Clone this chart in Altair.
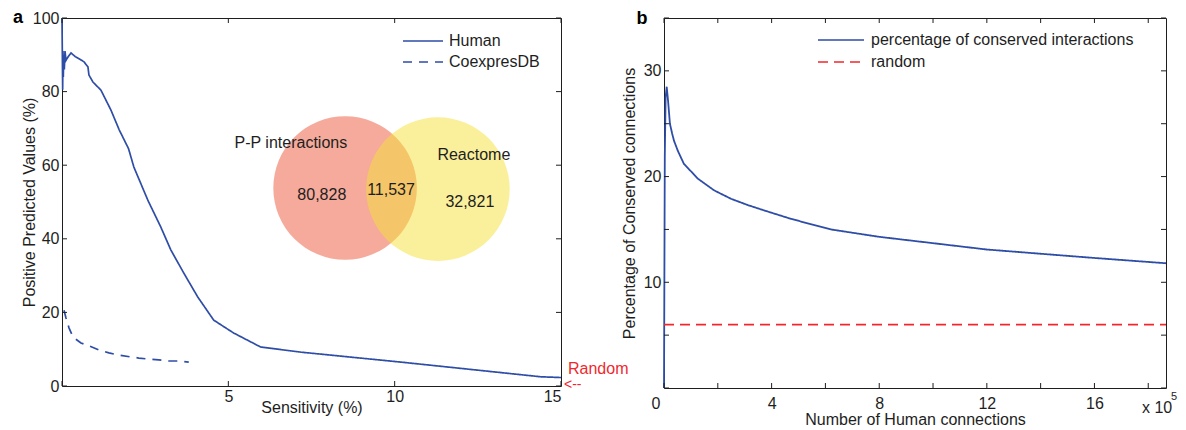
import altair as alt
import pandas as pd

FONT = "Liberation Sans"
BLUE = "#2E4DA7"
RED = "#F0282D"
INK = "#1E1E1E"

# ---------------- panel a ----------------
human_sens = [0.0, 0.02, 0.03, 0.04, 0.05, 0.07, 0.09, 0.12, 0.18, 0.27, 0.40, 0.57, 0.66,
              0.78, 0.81, 0.93, 1.17, 1.47, 1.72, 2.0, 2.16, 2.58, 2.97, 3.27, 3.66, 4.08,
              4.56, 5.16, 5.97, 7.18, 10.18, 14.4, 15.0]
human_ppv = [100, 80.5, 91, 84, 90, 86, 91, 88.5, 89.4, 90.5, 89.5, 88.6, 88.1,
             86.7, 84.5, 82.6, 80.4, 75, 69.6, 64.5, 59.5, 50.5, 43.2, 37, 30.7, 24.2,
             17.9, 14.4, 10.6, 9.2, 6.5, 2.5, 2.3]
coexp_sens = [0.06, 0.12, 0.21, 0.33, 0.57, 0.81, 1.11, 1.41, 1.71, 2.07, 2.31, 2.61,
              2.91, 3.21, 3.51, 3.81]
coexp_ppv = [20.6, 18.5, 15.8, 13.3, 11.7, 10.9, 9.8, 9.0, 8.4, 7.9, 7.6, 7.3,
             7.1, 6.8, 6.8, 6.5]
series_a = ["Human", "CoexpresDB"]

venn_sets = ["P-P interactions", "Reactome"]
venn_x = [8.51, 11.30]
venn_y = [53.8, 53.5]
venn_fill = ["#EB5537", "#F5E137"]

venn_labels = ["P-P interactions", "80,828", "11,537", "Reactome", "32,821"]
venn_label_x = [6.88, 7.81, 9.89, 12.38, 12.26]
venn_label_y = [66.0, 51.9, 53.3, 62.8, 50.0]

random_ppv_x = [15.0]
random_ppv_y = [0.5]

a_xticks = [0, 5, 10, 15]
a_xlabels = [5, 10, 15]
a_yticks = [0, 20, 40, 60, 80, 100]

# ---------------- panel b ----------------
conn_x = [0.0, 0.03, 0.06, 0.10, 0.15, 0.22, 0.30, 0.37, 0.52, 0.74, 0.89, 1.26, 1.86,
          2.49, 3.12, 3.72, 4.72, 6.2, 8.0, 10.0, 12.0, 14.0, 16.0, 18.66]
conserved = [0.0, 22.0, 27.5, 28.5, 27.2, 25.0, 24.1, 23.4, 22.4, 21.2, 20.8, 19.8, 18.7,
             17.9, 17.3, 16.8, 16.0, 15.0, 14.3, 13.7, 13.1, 12.7, 12.3, 11.8]
random_x = [0.0, 18.66]
random_y = [6.0, 6.0]
series_b = ["percentage of conserved interactions", "random"]

b_xticks = [0, 2, 4, 6, 8, 10, 12, 14, 16, 18]
b_xlabels = [0, 4, 8, 12, 16]
b_yticks = [0, 5, 10, 15, 20, 25, 30, 35]
b_ylabels = [10, 20, 30]

W_A, H_A = 499, 368
W_B, H_B = 502, 370
TICK = 5

# ---------------- build tables ----------------
lines_a = pd.DataFrame({
    "x": human_sens + coexp_sens,
    "y": human_ppv + coexp_ppv,
    "series": [series_a[0]] * len(human_sens) + [series_a[1]] * len(coexp_sens),
    "i": list(range(len(human_sens))) + list(range(len(coexp_sens))),
})
venn_df = pd.DataFrame({"x": venn_x, "y": venn_y, "set": venn_sets})
venn_txt = pd.DataFrame({"x": venn_label_x, "y": venn_label_y, "t": venn_labels})
rand_a = pd.DataFrame({"x": random_ppv_x, "y": random_ppv_y})
xt_a = pd.DataFrame({"x": a_xticks})
yt_a = pd.DataFrame({"y": a_yticks})

lines_b = pd.DataFrame({
    "x": conn_x + random_x,
    "y": conserved + random_y,
    "series": [series_b[0]] * len(conn_x) + [series_b[1]] * len(random_x),
    "i": list(range(len(conn_x))) + list(range(len(random_x))),
})
xt_b = pd.DataFrame({"x": b_xticks})
yt_b = pd.DataFrame({"y": b_yticks})

# ---------------- panel a chart ----------------
sx_a = alt.Scale(domain=[0, 15], nice=False, zero=False)
sy_a = alt.Scale(domain=[0, 100], nice=False)
xa = alt.X("x:Q", scale=sx_a, axis=alt.Axis(values=a_xlabels, title="Sensitivity (%)",
                                            labelPadding=2, titlePadding=-5))
ya = alt.Y("y:Q", scale=sy_a, axis=alt.Axis(values=a_yticks, title="Positive Predicted Values (%)",
                                            labelPadding=3, titlePadding=-5))

venn = alt.Chart(venn_df).mark_circle(size=20612, opacity=0.5).encode(
    x=xa, y=ya,
    color=alt.Color("set:N", scale=alt.Scale(domain=venn_sets, range=venn_fill), legend=None),
)
venn_text = alt.Chart(venn_txt).mark_text(font=FONT, fontSize=16, color=INK).encode(
    x=xa, y=ya, text="t:N")

legend_a = alt.Legend(title=None, orient="none", legendX=353, legendY=15, padding=0,
                      symbolType="M-5,0H5", symbolSize=64, symbolStrokeWidth=1.6,
                      symbolStrokeColor=BLUE, symbolFillColor="transparent",
                      labelFont=FONT, labelFontSize=16, labelColor=INK, labelLimit=400,
                      labelOffset=18, rowPadding=5)
lines_a_ch = alt.Chart(lines_a).mark_line(color=BLUE, strokeWidth=1.7).encode(
    x=xa, y=ya,
    strokeDash=alt.StrokeDash("series:N", scale=alt.Scale(domain=series_a, range=[[1, 0], [9, 7]]),
                              legend=legend_a),
    order=alt.Order("i:Q"),
)

rand_arrow = alt.Chart(rand_a).mark_text(font=FONT, fontSize=14, color=RED, align="left",
                                         baseline="middle", dx=3, dy=1).encode(
    x=xa, y=ya, text=alt.value("<--"))
rand_label = alt.Chart(rand_a).mark_text(font=FONT, fontSize=16, color=RED, align="left",
                                         baseline="middle", dx=7, dy=-15).encode(
    x=xa, y=ya, text=alt.value("Random"))

ticks_a = [
    alt.Chart(xt_a).mark_rule(color=INK).encode(x=xa, y=alt.value(H_A), y2=alt.value(H_A - TICK)),
    alt.Chart(xt_a).mark_rule(color=INK).encode(x=xa, y=alt.value(0), y2=alt.value(TICK)),
    alt.Chart(yt_a).mark_rule(color=INK).encode(y=ya, x=alt.value(0), x2=alt.value(TICK)),
    alt.Chart(yt_a).mark_rule(color=INK).encode(y=ya, x=alt.value(W_A - TICK), x2=alt.value(W_A)),
]
panel_label_a = alt.Chart(pd.DataFrame({"t": ["a"]})).mark_text(
    font=FONT, fontSize=18, fontWeight="bold", color="#000", align="center", baseline="alphabetic"
).encode(x=alt.value(-44), y=alt.value(5), text="t:N")

left = alt.layer(venn, venn_text, lines_a_ch, *ticks_a, rand_arrow, rand_label, panel_label_a).properties(
    width=W_A, height=H_A)

# ---------------- panel b chart ----------------
sx_b = alt.Scale(domain=[0, 18.66], nice=False, zero=False)
sy_b = alt.Scale(domain=[0, 35], nice=False)
xb = alt.X("x:Q", scale=sx_b, axis=alt.Axis(
    values=b_xlabels, title="Number of Human connections",
    labelPadding=7, titlePadding=0,
    labelAlign={"condition": {"test": "datum.value == 0", "value": "right"}, "value": "center"},
    labelOffset={"condition": {"test": "datum.value == 0", "value": -4}, "value": 0},
))
yb = alt.Y("y:Q", scale=sy_b, axis=alt.Axis(values=b_ylabels, title="Percentage of Conserved connections",
                                            labelPadding=3, titlePadding=6))

legend_b = alt.Legend(title=None, orient="none", legendX=169, legendY=14, padding=0,
                      symbolType="M-5.75,0H5.75", symbolSize=64, symbolStrokeWidth=1.6,
                      symbolFillColor="transparent",
                      labelFont=FONT, labelFontSize=16, labelColor=INK, labelLimit=400,
                      labelOffset=22, rowPadding=6)
lines_b_ch = alt.Chart(lines_b).mark_line(strokeWidth=1.8).encode(
    x=xb, y=yb,
    color=alt.Color("series:N", scale=alt.Scale(domain=series_b, range=[BLUE, RED]), legend=legend_b),
    strokeDash=alt.StrokeDash("series:N", scale=alt.Scale(domain=series_b, range=[[1, 0], [10, 6]]),
                              legend=legend_b),
    order=alt.Order("i:Q"),
)

ticks_b = [
    alt.Chart(xt_b).mark_rule(color=INK).encode(x=xb, y=alt.value(H_B), y2=alt.value(H_B - TICK)),
    alt.Chart(xt_b).mark_rule(color=INK).encode(x=xb, y=alt.value(0), y2=alt.value(TICK)),
    alt.Chart(yt_b).mark_rule(color=INK).encode(y=yb, x=alt.value(0), x2=alt.value(TICK)),
    alt.Chart(yt_b).mark_rule(color=INK).encode(y=yb, x=alt.value(W_B - TICK), x2=alt.value(W_B)),
]
panel_label_b = alt.Chart(pd.DataFrame({"t": ["b"]})).mark_text(
    font=FONT, fontSize=18, fontWeight="bold", color="#000", align="center", baseline="alphabetic"
).encode(x=alt.value(-22), y=alt.value(6), text="t:N")
exp_base = alt.Chart(pd.DataFrame({"t": ["x 10"]})).mark_text(
    font=FONT, fontSize=16, color=INK, align="left", baseline="alphabetic"
).encode(x=alt.value(478), y=alt.value(395), text="t:N")
exp_pow = alt.Chart(pd.DataFrame({"t": ["5"]})).mark_text(
    font=FONT, fontSize=11, color=INK, align="left", baseline="alphabetic"
).encode(x=alt.value(507), y=alt.value(382), text="t:N")

right = alt.layer(lines_b_ch, *ticks_b, panel_label_b, exp_base, exp_pow).properties(
    width=W_B, height=H_B)

chart = alt.hconcat(left, right, spacing=103, bounds="flush").resolve_scale(
    color="independent", strokeDash="independent"
).resolve_legend(color="independent", strokeDash="independent").properties(
    padding={"left": 4, "top": 0, "right": 0, "bottom": 2}
).configure_view(stroke=INK, strokeWidth=1).configure_axis(
    domain=False, ticks=False, grid=False, labelFont=FONT, titleFont=FONT,
    labelFontSize=16, titleFontSize=16, labelColor=INK, titleColor=INK,
    titleFontWeight="normal"
)

chart.save("out.html", embed_options={"renderer": "svg", "actions": False})
